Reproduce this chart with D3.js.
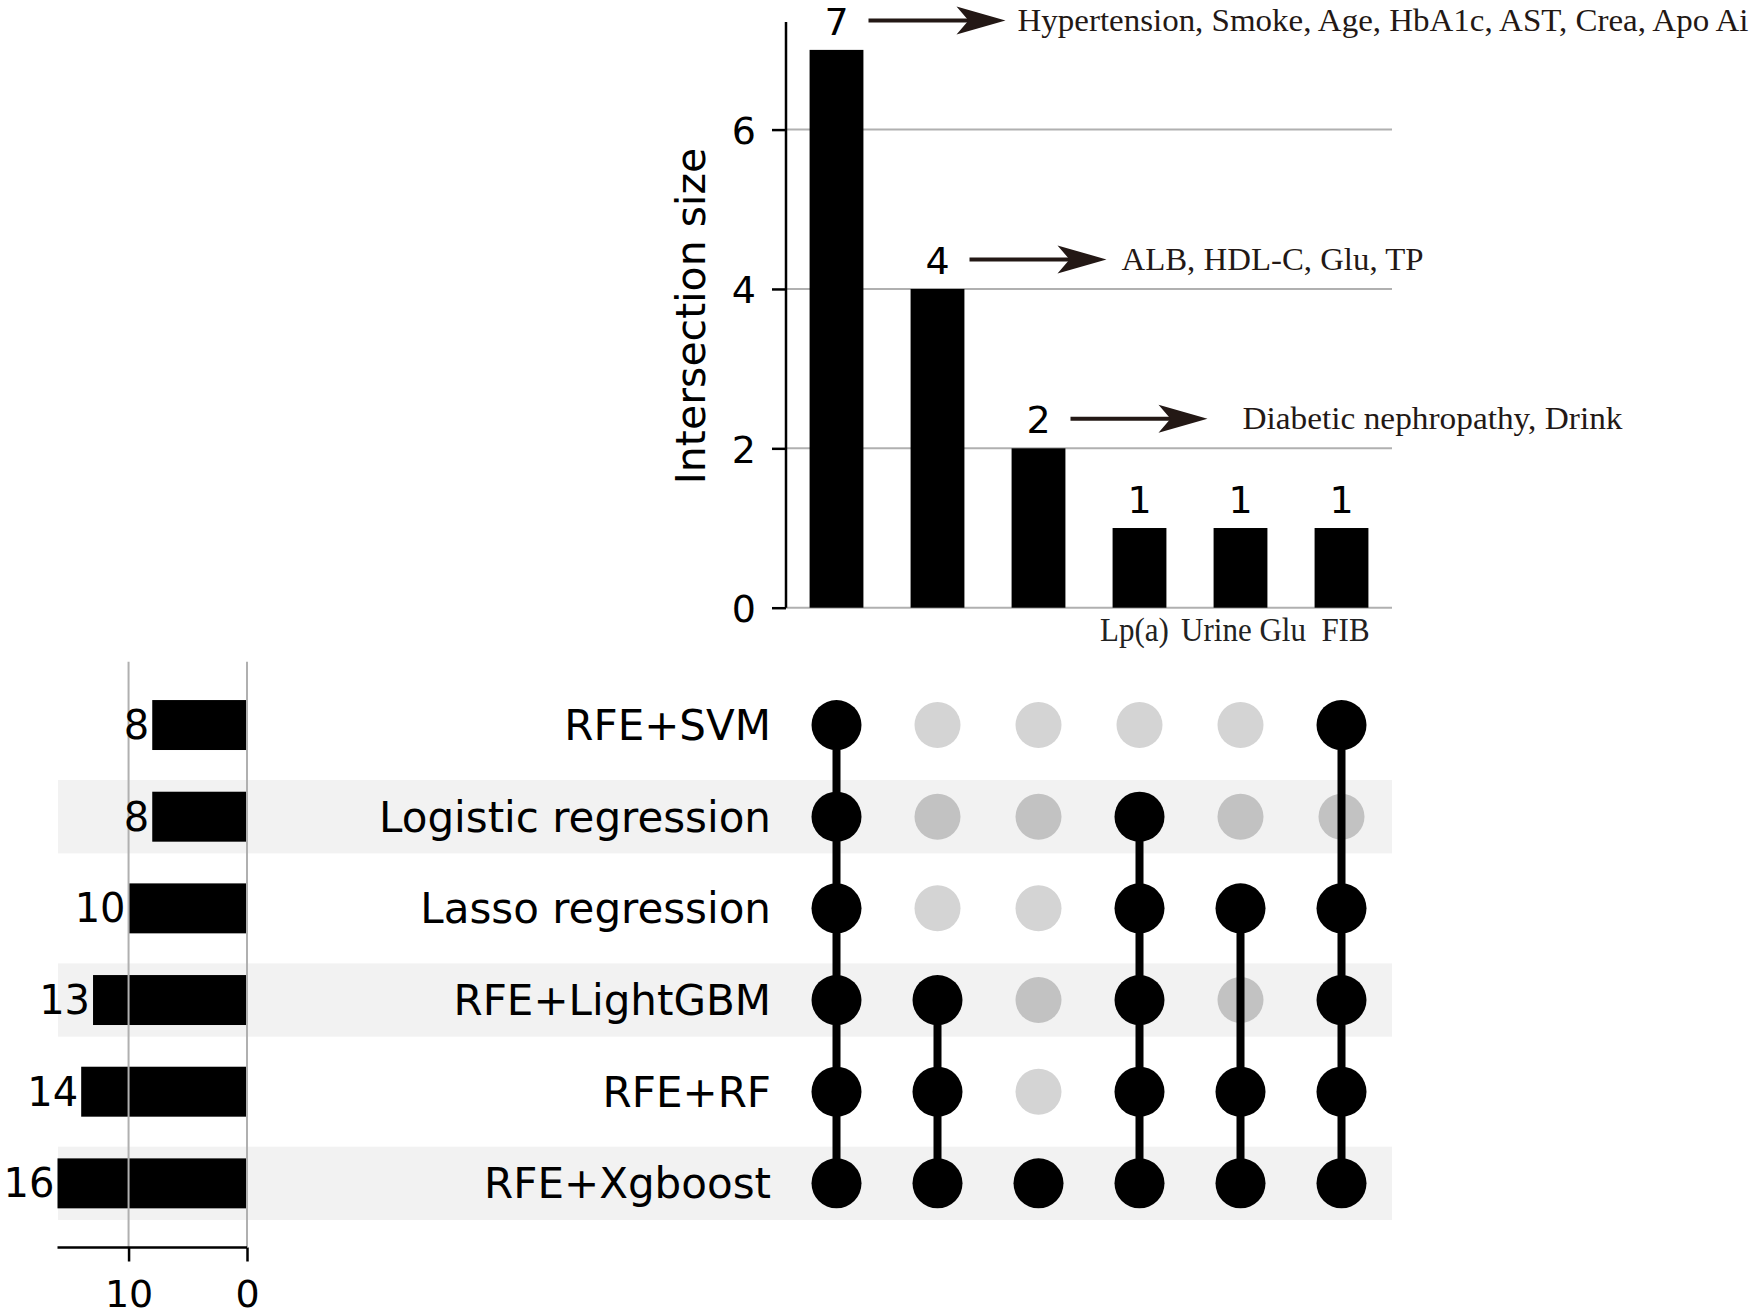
<!DOCTYPE html>
<html>
<head>
<meta charset="utf-8">
<script src="https://cdn.jsdelivr.net/npm/d3@7"></script>
<style>
  body { margin: 0; background: #fff; }
  text { font-family: "DejaVu Sans", sans-serif; }
  .serif { font-family: "Liberation Serif", "Times New Roman", serif; }
</style>
</head>
<body>
<svg id="chart" width="1756" height="1315"></svg>
<script>
// Data
const setNames = ["RFE+SVM", "Logistic regression", "Lasso regression", "RFE+LightGBM", "RFE+RF", "RFE+Xgboost"];
const setSizes = [8, 8, 10, 13, 14, 16];
const intersectionSizes = [7, 4, 2, 1, 1, 1];
const intersectionLabels = ["", "", "", "Lp(a)", "Urine Glu", "FIB"];
// row indices (into setNames) belonging to each intersection
const memberships = [
  [0, 1, 2, 3, 4, 5],
  [3, 4, 5],
  [5],
  [1, 2, 3, 4, 5],
  [2, 4, 5],
  [0, 2, 3, 4, 5]
];
const annotations = [
  "Hypertension, Smoke, Age, HbA1c, AST, Crea, Apo Ai",
  "ALB, HDL-C, Glu, TP",
  "Diabetic nephropathy, Drink"
];
const yTicks = [0, 2, 4, 6];
const setTicks = [10, 0];

// layout
const svg = d3.select("#chart");
const cols = d3.range(intersectionSizes.length);
const rows = d3.range(setNames.length);

const x = d3.scaleBand().domain(cols).range([786, 1392])
    .paddingInner(0.467).paddingOuter(0.2335);
const y = d3.scaleLinear().domain([0, 7.35]).range([607.7, 22]);
const rowY = d3.scaleBand().domain(rows).range([679.2, 1229.2])
    .paddingInner(0.455).paddingOuter(0.2275);
const xs = d3.scaleLinear().domain([0, 16]).range([247, 57.5]);

const cx = i => x(i) + x.bandwidth() / 2;
const cy = r => rowY(r) + rowY.bandwidth() / 2;
const step = rowY.step();

// shaded rows
svg.append("g").selectAll("rect")
  .data(rows.filter(r => r % 2 === 1))
  .join("rect")
    .attr("x", 58)
    .attr("width", 1392 - 58)
    .attr("y", r => cy(r) - step * 0.4)
    .attr("height", step * 0.8)
    .attr("fill", "#f2f2f2");

// ---- intersection size chart ----
svg.append("g").selectAll("line")
  .data(yTicks)
  .join("line")
    .attr("x1", 786).attr("x2", 1392)
    .attr("y1", d => y(d)).attr("y2", d => y(d))
    .attr("stroke", "#b0b0b0").attr("stroke-width", 2);

svg.append("g").selectAll("rect")
  .data(intersectionSizes)
  .join("rect")
    .attr("x", (d, i) => x(i))
    .attr("width", x.bandwidth())
    .attr("y", d => y(d))
    .attr("height", d => y(0) - y(d))
    .attr("fill", "#000");

const yAxis = svg.append("g")
    .attr("transform", "translate(786,0)")
    .call(d3.axisLeft(y).tickValues(yTicks).tickSize(14).tickPadding(16).tickFormat(d3.format("d")));
yAxis.select(".domain").attr("d", `M0,${y(0)}V22`).attr("stroke-width", 2.5);
yAxis.selectAll(".tick line").attr("stroke-width", 2.5);
yAxis.selectAll(".tick text").attr("font-size", 38).attr("font-family", "DejaVu Sans").attr("dy", "0.36em");

svg.append("text")
    .attr("transform", "translate(705,316) rotate(-90)")
    .attr("text-anchor", "middle")
    .attr("font-size", 41)
    .text("Intersection size");

svg.append("g").selectAll("text")
  .data(intersectionSizes)
  .join("text")
    .attr("x", (d, i) => cx(i))
    .attr("y", d => y(d) - 15)
    .attr("text-anchor", "middle")
    .attr("font-size", 38)
    .text(d => d);

// column labels under the bars (slightly taller, narrower serif as in the figure)
const labelShift = [0, 0, 0, -5, 3, 4];
svg.append("g").selectAll("text")
  .data(intersectionLabels)
  .join("text")
    .attr("class", "serif")
    .attr("transform", (d, i) => `translate(${cx(i) + labelShift[i]},641) scale(1,1.12)`)
    .attr("text-anchor", "middle")
    .attr("font-size", 31)
    .attr("fill", "#222")
    .text(d => d);

// arrows + annotations
const arrowColor = "#231815";
const textGap = [12, 15, 35];
const textWidth = [731, 302, 380];
const ann = svg.append("g").selectAll("g")
  .data(annotations)
  .join("g")
    .attr("transform", (d, i) => `translate(${cx(i) + 32},${y(intersectionSizes[i]) - 29.5})`);
ann.append("line")
    .attr("x1", 0).attr("x2", 110)
    .attr("stroke", arrowColor).attr("stroke-width", 4);
ann.append("path")
    .attr("d", "M137,0 L88,-14 L100,0 L88,14 Z")
    .attr("fill", arrowColor);
ann.append("text")
    .attr("class", "serif")
    .attr("x", (d, i) => 137 + textGap[i])
    .attr("y", 10.5)
    .attr("font-size", 32)
    .attr("fill", arrowColor)
    .attr("textLength", (d, i) => textWidth[i])
    .attr("lengthAdjust", "spacingAndGlyphs")
    .text(d => d);

// ---- matrix ----
svg.append("g").selectAll("circle")
  .data(d3.cross(cols, rows).filter(([c, r]) => !memberships[c].includes(r)))
  .join("circle")
    .attr("cx", d => cx(d[0]))
    .attr("cy", d => cy(d[1]))
    .attr("r", 23)
    .attr("fill", d => d[1] % 2 === 1 ? "#c2c2c2" : "#d4d4d4");

svg.append("g").selectAll("line")
  .data(memberships.map((m, c) => ({c, lo: d3.min(m), hi: d3.max(m)})).filter(d => d.lo !== d.hi))
  .join("line")
    .attr("x1", d => cx(d.c)).attr("x2", d => cx(d.c))
    .attr("y1", d => cy(d.lo)).attr("y2", d => cy(d.hi))
    .attr("stroke", "#000").attr("stroke-width", 8);

svg.append("g").selectAll("circle")
  .data(memberships.flatMap((m, c) => m.map(r => [c, r])))
  .join("circle")
    .attr("cx", d => cx(d[0]))
    .attr("cy", d => cy(d[1]))
    .attr("r", 25)
    .attr("fill", "#000");

svg.append("g").selectAll("text")
  .data(setNames)
  .join("text")
    .attr("x", 771)
    .attr("y", (d, i) => cy(i) + 15)
    .attr("text-anchor", "end")
    .attr("font-size", 42)
    .text(d => d);

// ---- set size chart ----
svg.append("g").selectAll("rect")
  .data(setSizes)
  .join("rect")
    .attr("x", d => xs(d))
    .attr("width", d => xs(0) - xs(d))
    .attr("y", (d, i) => rowY(i))
    .attr("height", rowY.bandwidth())
    .attr("fill", "#000");

svg.append("g").selectAll("line")
  .data(setTicks)
  .join("line")
    .attr("x1", d => xs(d)).attr("x2", d => xs(d))
    .attr("y1", 661.7).attr("y2", 1247)
    .attr("stroke", "#b0b0b0").attr("stroke-width", 2);

svg.append("g").selectAll("text")
  .data(setSizes)
  .join("text")
    .attr("x", d => xs(d) - 3)
    .attr("y", (d, i) => cy(i) + 14)
    .attr("text-anchor", "end")
    .attr("font-size", 40)
    .text(d => d);

const xAxis = svg.append("g")
    .attr("transform", "translate(0,1247.5)")
    .call(d3.axisBottom(xs).tickValues(setTicks).tickSize(14).tickPadding(19).tickFormat(d3.format("d")));
xAxis.select(".domain").attr("d", `M${xs(16)},0H${xs(0)}`).attr("stroke-width", 2.5);
xAxis.selectAll(".tick line").attr("stroke-width", 2.5);
xAxis.selectAll(".tick text").attr("font-size", 38).attr("font-family", "DejaVu Sans");
</script>
</body>
</html>
